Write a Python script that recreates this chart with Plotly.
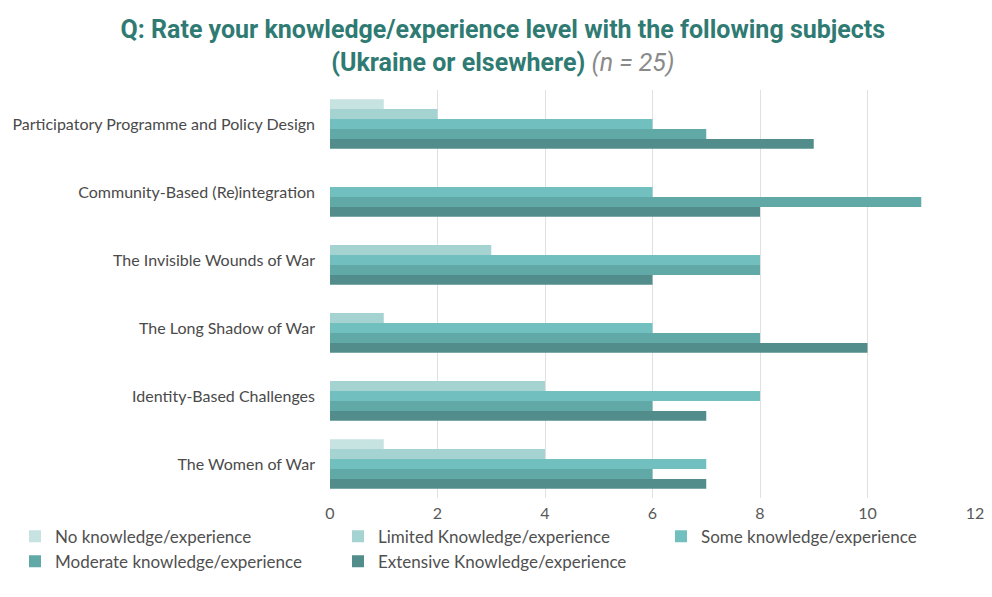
import plotly.graph_objects as go

CATEGORIES = [
    "Participatory Programme and Policy Design",
    "Community-Based (Re)integration",
    "The Invisible Wounds of War",
    "The Long Shadow of War",
    "Identity-Based Challenges",
    "The Women of War",
]

NO_KNOWLEDGE = [1, 0, 0, 0, 0, 1]
LIMITED = [2, 0, 3, 1, 4, 4]
SOME = [6, 6, 8, 6, 8, 7]
MODERATE = [7, 11, 8, 8, 6, 6]
EXTENSIVE = [9, 8, 6, 10, 7, 7]

SERIES = [
    ("No knowledge/experience", NO_KNOWLEDGE, "#C7E3E1"),
    ("Limited Knowledge/experience", LIMITED, "#A4D3D1"),
    ("Some knowledge/experience", SOME, "#71C0BF"),
    ("Moderate knowledge/experience", MODERATE, "#60A9A6"),
    ("Extensive Knowledge/experience", EXTENSIVE, "#528C8B"),
]

fig = go.Figure()
for name, values, color in SERIES:
    fig.add_trace(
        go.Bar(
            x=values,
            y=CATEGORIES,
            name=name,
            orientation="h",
            marker=dict(color=color, line=dict(width=0)),
            hovertemplate="%{y}: %{x}<extra>" + name + "</extra>",
        )
    )

# page body has an 8px margin, so size the figure to fit inside it (no scrollbars)
fig.update_layout(
    title=dict(
        text=(
            "<b>Q: Rate your knowledge/experience level with the following subjects</b><br>"
            "<b>(Ukraine or elsewhere)</b> <i><span style='color:#8A8A8A'>(n = 25)</span></i>"
        ),
        x=0.507,
        xanchor="center",
        xref="container",
        yref="container",
        y=1 - 30 / 581,
        yanchor="middle",
        font=dict(family="Roboto", size=25, color="#2F7B73"),
    ),
    template="plotly_white",
    barmode="group",
    bargap=0.27,
    bargroupgap=0,
    width=976,
    height=581,
    font=dict(family="Lato", size=16, color="#4A4A4A"),
    margin=dict(l=322, r=9, t=82, b=89),
    plot_bgcolor="white",
    paper_bgcolor="white",
    showlegend=True,
    legend=dict(
        orientation="h",
        x=-0.47,
        xanchor="left",
        y=-0.2,
        yanchor="bottom",
        entrywidth=278,
        font=dict(family="Lato", size=17, color="#505050"),
        itemwidth=30,
        traceorder="normal",
        bgcolor="rgba(0,0,0,0)",
    ),
)
fig.update_xaxes(
    range=[0, 12],
    dtick=2,
    showgrid=True,
    gridcolor="#E0E0E0",
    zeroline=False,
    showline=False,
    ticks="",
    ticklabelstandoff=4,
    ticklabeloverflow="allow",
    automargin=False,
    tickfont=dict(size=16, color="#595959"),
)
fig.update_yaxes(
    autorange="reversed",
    showgrid=False,
    ticks="",
    ticklabelstandoff=14,
    automargin=False,
    tickfont=dict(size=16, color="#4A4A4A"),
)

fig.write_html("out.html")
